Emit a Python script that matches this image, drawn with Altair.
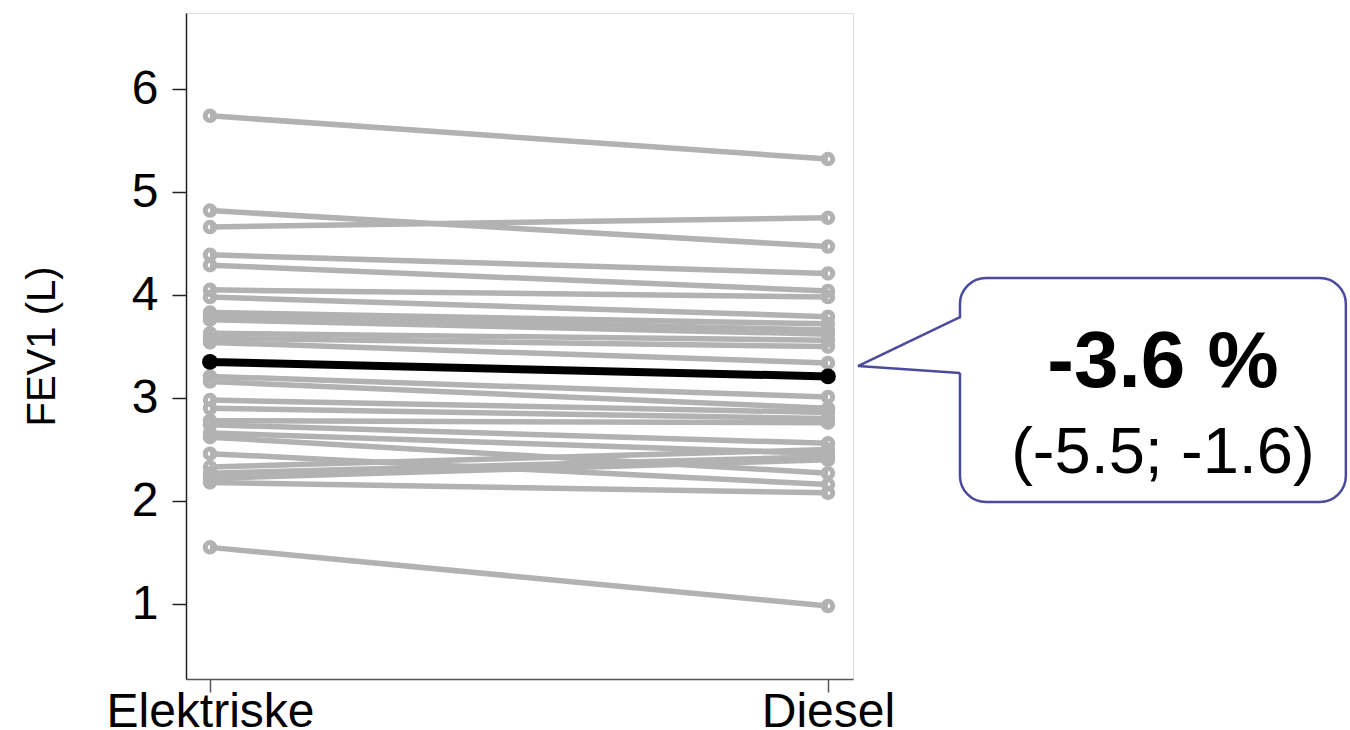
import altair as alt
import pandas as pd

# ---- data ----
conditions = ["Elektriske", "Diesel"]
electric = [5.74, 4.82, 4.66, 4.39, 4.29, 4.05, 3.98, 3.83, 3.80, 3.76, 3.63, 3.58, 3.54,
            3.21, 3.16, 2.98, 2.90, 2.78, 2.74, 2.66, 2.62, 2.46, 2.33, 2.27, 2.22, 2.18, 1.55]
diesel = [5.32, 4.47, 4.75, 4.21, 4.04, 3.98, 3.79, 3.72, 3.66, 3.62, 3.56, 3.50, 3.34,
          3.01, 2.90, 2.86, 2.80, 2.76, 2.56, 2.46, 2.27, 2.16, 2.50, 2.43, 2.40, 2.08, 0.98]
mean_values = [3.35, 3.21]
y_ticks = [1, 2, 3, 4, 5, 6]
callout_main = "-3.6 %"
callout_ci = "(-5.5; -1.6)"

# annotation geometry (in data units of the chart scales)
box = {"x": 1.2136, "x2": 1.838, "y": 4.165, "y2": 1.99}
pointer_tip = (1.0485, 3.31)
pointer_base = (1.2136, 3.786, 3.243)

rows = []
for i, (a, b) in enumerate(zip(electric, diesel)):
    rows.append({"id": i, "pos": 0, "val": a})
    rows.append({"id": i, "pos": 1, "val": b})
subj = pd.DataFrame(rows)
mean_df = pd.DataFrame({"pos": [0, 1], "val": mean_values})

FONT = "Liberation Sans"
x_scale = alt.Scale(domain=[-0.0388, 1.0405], nice=False, zero=False)
y_scale = alt.Scale(domain=[0.272, 6.738], nice=False, zero=False)

x_axis = alt.Axis(values=[0, 1],
                  labelExpr=f"datum.value == 0 ? '{conditions[0]}' : '{conditions[1]}'",
                  title=None, grid=False, tickSize=13, labelPadding=-4, labelFontSize=48,
                  labelFont=FONT, labelColor="black", domainColor="#555555",
                  tickColor="#555555", domainWidth=1.5, tickWidth=1.5, labelFlush=False,
                  labelOverlap=False, labelLimit=0)
y_axis = alt.Axis(values=y_ticks, title="FEV1 (L)", grid=False, tickSize=14, labelPadding=14,
                  labelFontSize=48, labelFont=FONT, labelColor="black", titleFont=FONT,
                  titleFontSize=40, titleFontWeight="normal", titleColor="black",
                  titlePadding=69, domainColor="#222222", tickColor="#222222",
                  domainWidth=1.5, tickWidth=1.5)


def X(field="pos"):
    return alt.X(f"{field}:Q", scale=x_scale, axis=x_axis)


def Y(field="val"):
    return alt.Y(f"{field}:Q", scale=y_scale, axis=y_axis)


GRAY = "#b2b2b2"
lines = alt.Chart(subj).mark_line(color=GRAY, strokeWidth=5.5).encode(
    x=X(), y=Y(), detail="id:N")
points = alt.Chart(subj).mark_point(shape="circle", filled=False, color=GRAY,
                                    strokeWidth=5, size=90, opacity=1).encode(x=X(), y=Y())
mean_line = alt.Chart(mean_df).mark_line(color="black", strokeWidth=8).encode(x=X(), y=Y())
mean_pts = alt.Chart(mean_df).mark_point(shape="circle", filled=True, color="black",
                                         size=250, opacity=1).encode(x=X(), y=Y())

BLUE = "#4b4b9e"
box_df = pd.DataFrame([{"pos": box["x"], "pos2": box["x2"], "val": box["y"], "val2": box["y2"]}])
box_mark = alt.Chart(box_df).mark_rect(fill="white", stroke=BLUE, strokeWidth=2.5,
                                       cornerRadius=26).encode(
    x=X(), x2="pos2:Q", y=Y(), y2="val2:Q")

tri_df = pd.DataFrame({"pos": [pointer_tip[0], pointer_base[0] + 0.005],
                       "val": [pointer_tip[1], pointer_base[1]],
                       "val2": [pointer_tip[1], pointer_base[2]]})
tri = alt.Chart(tri_df).mark_area(fill="white", orient="vertical", opacity=1).encode(
    x=X(), y=Y(), y2="val2:Q")

seg_df = pd.DataFrame({"seg": ["a", "a", "b", "b"],
                       "pos": [pointer_tip[0], pointer_base[0], pointer_tip[0], pointer_base[0]],
                       "val": [pointer_tip[1], pointer_base[1], pointer_tip[1], pointer_base[2]]})
segs = alt.Chart(seg_df).mark_line(color=BLUE, strokeWidth=2.5).encode(
    x=X(), y=Y(), detail="seg:N")

txt_df = pd.DataFrame({"pos": [1.542, 1.542], "val": [3.107, 2.272],
                       "label": [callout_main, callout_ci], "kind": ["main", "ci"]})
txt_main = alt.Chart(txt_df[txt_df.kind == "main"]).mark_text(
    font=FONT, fontSize=80, fontWeight="bold", color="black", align="center",
    baseline="alphabetic").encode(x=X(), y=Y(), text="label:N")
txt_ci = alt.Chart(txt_df[txt_df.kind == "ci"]).mark_text(
    font=FONT, fontSize=65, color="black", align="center",
    baseline="alphabetic").encode(x=X(), y=Y(), text="label:N")

chart = alt.layer(lines, points, mean_line, mean_pts, box_mark, tri, segs, txt_main, txt_ci).properties(
    width=667, height=666,
    autosize=alt.AutoSizeParams(type="none"),
    padding={"left": 186, "top": 13, "right": 497, "bottom": 51},
).configure_view(stroke="#aaaaaa", strokeWidth=1.5).configure(background="white")

chart.save("out.html", embed_options={"renderer": "svg", "actions": False})
